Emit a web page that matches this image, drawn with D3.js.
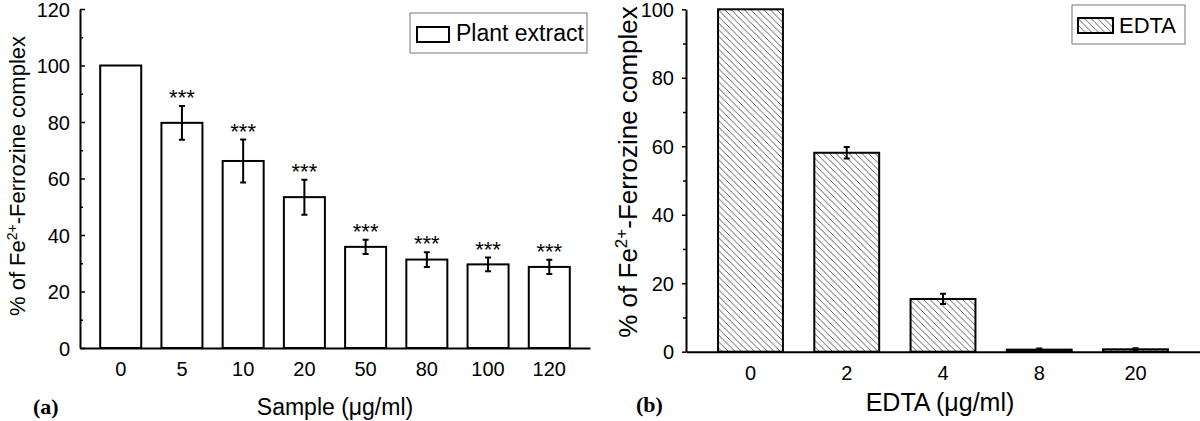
<!DOCTYPE html>
<html><head><meta charset="utf-8">
<script src="https://cdn.jsdelivr.net/npm/d3@7"></script>
<style>
body{margin:0;background:#fff;}
text{font-family:"Liberation Sans",Arial,sans-serif;fill:#000;}
</style></head>
<body>
<svg id="c" width="1200" height="421"></svg>
<script>
const catsA = ["0","5","10","20","50","80","100","120"];
const valsA = [100, 79.7, 66.2, 53.4, 35.8, 31.3, 29.6, 28.7];
const errA  = [0, 6.0, 7.6, 6.2, 2.5, 2.6, 2.4, 2.5];
const sigA  = ["", "***", "***", "***", "***", "***", "***", "***"];
const yTicksA = [0, 20, 40, 60, 80, 100, 120];

const catsB = ["0","2","4","8","20"];
const valsB = [100, 58.1, 15.4, 0.6, 0.7];
const errB  = [0, 1.7, 1.5, 0.3, 0.3];
const yTicksB = [0, 20, 40, 60, 80, 100];

const svg = d3.select("#c");
const defs = svg.append("defs");
const pat = defs.append("pattern").attr("id","hatch").attr("patternUnits","userSpaceOnUse")
  .attr("width",6.5).attr("height",6.5);
pat.append("rect").attr("width",6.5).attr("height",6.5).attr("fill","#fff");
pat.append("path").attr("d","M0,0L6.5,6.5M-1,5.5L1,7.5M5.5,-1L7.5,1").attr("stroke","#4a4a4a").attr("stroke-width",0.9);

/* ---------- Panel A ---------- */
const xA = d3.scaleBand().domain(catsA).range([80,590]).paddingInner(0.33).paddingOuter(0.33);
const yA = d3.scaleLinear().domain([0,120]).range([348,9]);
const gA = svg.append("g");

gA.selectAll("rect.bar").data(catsA).join("rect").attr("class","bar")
  .attr("x",d=>xA(d)).attr("width",xA.bandwidth())
  .attr("y",(d,i)=>yA(valsA[i])).attr("height",(d,i)=>yA(0)-yA(valsA[i]))
  .attr("fill","#fff").attr("stroke","#000").attr("stroke-width",2);

catsA.forEach((c,i)=>{
  if(!errA[i]) return;
  const cx = xA(c)+xA.bandwidth()/2;
  const t = yA(valsA[i]+errA[i]), b = yA(valsA[i]-errA[i]);
  gA.append("path").attr("d",`M${cx},${t}V${b}M${cx-3},${t}H${cx+3}M${cx-3},${b}H${cx+3}`)
    .attr("stroke","#000").attr("stroke-width",2).attr("fill","none");
  gA.append("text").attr("x",cx).attr("y",t-1).attr("text-anchor","middle")
    .style("font-size","22px").text(sigA[i]);
});

const axA = gA.append("g").attr("transform","translate(80,0)")
  .call(d3.axisLeft(yA).tickValues(yTicksA).tickSizeInner(-5).tickSizeOuter(0).tickPadding(10));
axA.selectAll("text").style("font-size","20px").attr("dy","0.36em");
axA.select(".domain").attr("stroke-width",2);
axA.selectAll(".tick line").attr("stroke-width",1.5);
gA.append("g").attr("transform","translate(80,0)")
  .call(d3.axisLeft(yA).tickValues(d3.range(10,120,20)).tickSizeInner(-3).tickSizeOuter(0).tickFormat(""))
  .call(g=>g.select(".domain").remove())
  .selectAll(".tick line").attr("stroke-width",1.5);

const xaxA = gA.append("g").attr("transform","translate(0,348)")
  .call(d3.axisBottom(xA).tickSize(0).tickPadding(14));
xaxA.select(".domain").attr("stroke-width",2);
xaxA.selectAll("text").style("font-size","20px");

gA.append("text").attr("transform","translate(25,176) rotate(-90)").attr("text-anchor","middle")
  .style("font-size","22px")
  .call(t=>{t.append("tspan").text("% of Fe");
            t.append("tspan").attr("dy","-8").style("font-size","14px").text("2+");
            t.append("tspan").attr("dy","8").text("-Ferrozine complex");});
gA.append("text").attr("x",335).attr("y",415).attr("text-anchor","middle").style("font-size","23px")
  .text("Sample (\u03bcg/ml)");
gA.append("text").attr("x",33).attr("y",414).style("font-family","'Liberation Serif',serif")
  .style("font-weight","bold").style("font-size","22px").text("(a)");

gA.append("rect").attr("x",410).attr("y",13).attr("width",177).attr("height",40)
  .attr("fill","#fff").attr("stroke","#777").attr("stroke-width",1);
gA.append("rect").attr("x",417).attr("y",27).attr("width",32).attr("height",15)
  .attr("fill","#fff").attr("stroke","#000").attr("stroke-width",2);
gA.append("text").attr("x",456).attr("y",41).style("font-size","23px").text("Plant extract");

/* ---------- Panel B ---------- */
const xB = d3.scaleBand().domain(catsB).range([686,1200]).paddingInner(0.326).paddingOuter(0.333);
const yB = d3.scaleLinear().domain([0,100]).range([351.7,9.3]);
const gB = svg.append("g");

gB.selectAll("rect.bar").data(catsB).join("rect").attr("class","bar")
  .attr("x",d=>xB(d)).attr("width",xB.bandwidth())
  .attr("y",(d,i)=>yB(valsB[i])).attr("height",(d,i)=>yB(0)-yB(valsB[i]))
  .attr("fill","url(#hatch)").attr("stroke","#000").attr("stroke-width",2);

catsB.forEach((c,i)=>{
  if(!errB[i]) return;
  const cx = xB(c)+xB.bandwidth()/2;
  const t = yB(valsB[i]+errB[i]), b = yB(valsB[i]-errB[i]);
  gB.append("path").attr("d",`M${cx},${t}V${b}M${cx-3},${t}H${cx+3}M${cx-3},${b}H${cx+3}`)
    .attr("stroke","#000").attr("stroke-width",2).attr("fill","none");
});

const axB = gB.append("g").attr("transform","translate(686,0)")
  .call(d3.axisLeft(yB).tickValues(yTicksB).tickSizeInner(4).tickSizeOuter(0).tickPadding(8));
axB.selectAll("text").style("font-size","20px").attr("dy","0.36em");
axB.select(".domain").attr("stroke-width",2);
axB.selectAll(".tick line").attr("stroke-width",1.5);
gB.append("g").attr("transform","translate(686,0)")
  .call(d3.axisLeft(yB).tickValues(d3.range(10,100,20)).tickSizeInner(3).tickSizeOuter(0).tickFormat(""))
  .call(g=>g.select(".domain").remove())
  .selectAll(".tick line").attr("stroke-width",1.5);

const xaxB = gB.append("g").attr("transform","translate(0,351.7)")
  .call(d3.axisBottom(xB).tickSize(0).tickPadding(14));
xaxB.select(".domain").attr("stroke-width",2);
xaxB.selectAll("text").style("font-size","20px");

gB.append("text").attr("transform","translate(637,172) rotate(-90)").attr("text-anchor","middle")
  .style("font-size","26px")
  .call(t=>{t.append("tspan").text("% of Fe");
            t.append("tspan").attr("dy","-10").style("font-size","17px").text("2+");
            t.append("tspan").attr("dy","10").text("-Ferrozine complex");});
gB.append("text").attr("x",940).attr("y",411).attr("text-anchor","middle").style("font-size","25px")
  .text("EDTA (\u03bcg/ml)");
gB.append("text").attr("x",636).attr("y",412).style("font-family","'Liberation Serif',serif")
  .style("font-weight","bold").style("font-size","22px").text("(b)");

gB.append("rect").attr("x",1072).attr("y",5).attr("width",113).attr("height",39)
  .attr("fill","#fff").attr("stroke","#777").attr("stroke-width",1);
gB.append("rect").attr("x",1078).attr("y",18).attr("width",35).attr("height",15)
  .attr("fill","url(#hatch)").attr("stroke","#000").attr("stroke-width",2);
gB.append("text").attr("x",1119).attr("y",33).style("font-size","22px").text("EDTA");
</script>
</body></html>
